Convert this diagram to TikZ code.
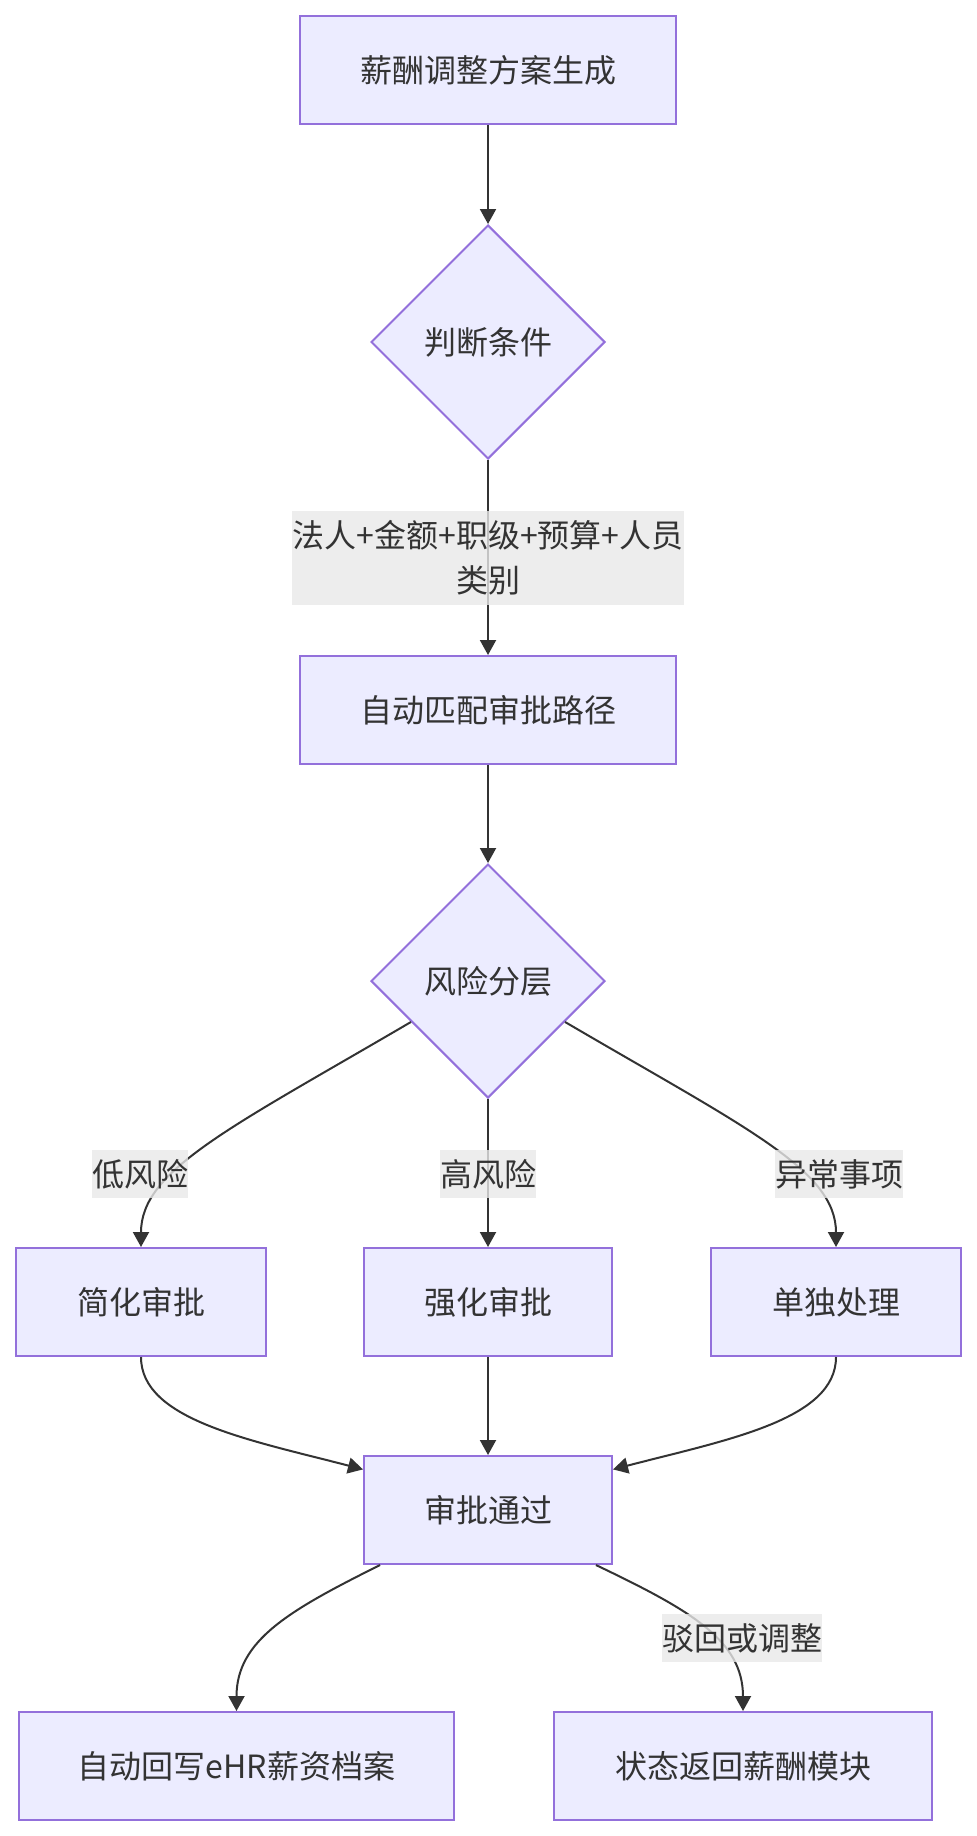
\documentclass[tikz,border=0pt]{standalone}
\usepackage{fontspec}
\setmainfont{Noto Sans CJK SC}
\usepackage{xcolor}
\usetikzlibrary{shapes.geometric, arrows.meta}

\definecolor{nodefill}{HTML}{ECECFF}
\definecolor{nodeline}{HTML}{9370DB}
\definecolor{inkgray}{HTML}{333333}
\definecolor{lblfill}{HTML}{E8E8E8}

\tikzset{
  procbox/.style={draw=nodeline, fill=nodefill, line width=1pt, minimum height=54pt, inner sep=0pt, text=inkgray},
  decide/.style={diamond, draw=nodeline, fill=nodefill, line width=1pt, minimum width=117pt, minimum height=117pt, inner sep=0pt, aspect=1, text=inkgray},
  edgelbl/.style={fill=lblfill, fill opacity=0.8, text opacity=1, text=inkgray, inner xsep=0pt, inner ysep=0pt, minimum height=24pt, align=center},
  flow/.style={draw=inkgray, line width=1pt, -{Triangle[length=7.5pt, width=8pt]}}
}

\begin{document}
\begin{tikzpicture}[x=0.5pt, y=-0.5pt, font=\fontsize{16pt}{22.5pt}\selectfont]
        \useasboundingbox (0,0) rectangle (976,1836);

        % upper chain
        \node[procbox, minimum width=188pt] (plan) at (488,70) {薪酬调整方案生成};
        \node[decide] (judge) at (488,342) {判断条件};
        \node[procbox, minimum width=188pt] (match) at (488,710) {自动匹配审批路径};
        \node[decide] (risk) at (488,981) {风险分层};

        % three branches
        \node[procbox, minimum width=125pt] (simple) at (141,1302) {简化审批};
        \node[procbox, minimum width=124pt] (strong) at (488,1302) {强化审批};
        \node[procbox, minimum width=125pt] (single) at (836,1302) {单独处理};

        % result
        \node[procbox, minimum width=124pt] (pass) at (488,1510) {审批通过};
        \node[procbox, minimum width=217.5pt] (ehr) at (236.5,1766) {自动回写eHR薪资档案};
        \node[procbox, minimum width=189pt] (back) at (743,1766) {状态返回薪酬模块};

        % connectors
        \draw[flow] (plan.south) -- (judge.north);
        \draw[flow] (judge.south) -- (match.north);
        \draw[flow] (match.south) -- (risk.north);
        \draw[flow] (risk.208) .. controls (230,1128) and (141,1170) .. (simple.north);
        \draw[flow] (risk.south) -- (strong.north);
        \draw[flow] (risk.332) .. controls (746,1128) and (836,1170) .. (single.north);
        \draw[flow] (simple.south) .. controls (141,1420) and (250,1440) .. (pass.162);
        \draw[flow] (strong.south) -- (pass.north);
        \draw[flow] (single.south) .. controls (836,1420) and (726,1440) .. (pass.18);
        \draw[flow] (pass.207) .. controls (290,1610) and (236.5,1640) .. (ehr.north);
        \draw[flow] (pass.333) .. controls (690,1610) and (743,1640) .. (back.north);

        % edge labels
        \node[edgelbl, inner ysep=5pt] (cond) at (488,558) {法人+金额+职级+预算+人员\\类别};
        \node[edgelbl] (low) at (140,1174) {低风险};
        \node[edgelbl] (high) at (488,1174) {高风险};
        \node[edgelbl] (odd) at (839,1174) {异常事项};
        \node[edgelbl] (reject) at (742,1638) {驳回或调整};
\end{tikzpicture}
\end{document}
